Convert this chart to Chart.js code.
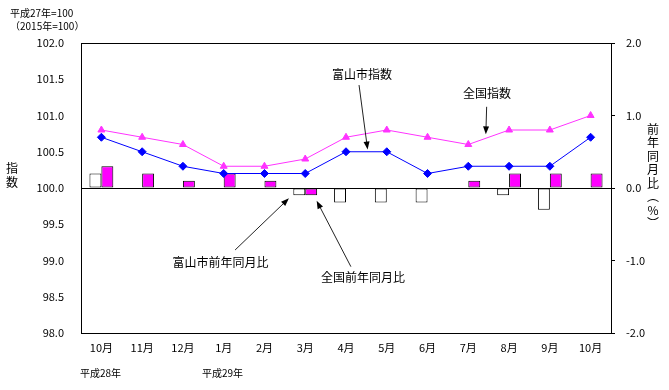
<!DOCTYPE html>
<html lang="ja">
<head>
<meta charset="utf-8">
<title>富山市指数と全国指数</title>
<script src="https://cdn.jsdelivr.net/npm/chart.js@4.4.1/dist/chart.umd.min.js"></script>
<style>
  html, body { margin: 0; padding: 0; background: #fff; }
  #wrap { width: 669px; height: 390px; }
</style>
</head>
<body>
<div id="wrap"><canvas id="indexChart" width="669" height="390"></canvas></div>
<script>
const months = ["10月", "11月", "12月", "1月", "2月", "3月", "4月", "5月", "6月", "7月", "8月", "9月", "10月"];
const toyamaIndex = [100.7, 100.5, 100.3, 100.2, 100.2, 100.2, 100.5, 100.5, 100.2, 100.3, 100.3, 100.3, 100.7];
const zenkokuIndex = [100.8, 100.7, 100.6, 100.3, 100.3, 100.4, 100.7, 100.8, 100.7, 100.6, 100.8, 100.8, 101.0];
const toyamaYoY = [0.2, 0, 0, 0, 0, -0.1, -0.2, -0.2, -0.2, 0, -0.1, -0.3, 0];
const zenkokuYoY = [0.3, 0.2, 0.1, 0.2, 0.1, -0.1, 0, 0, 0, 0.1, 0.2, 0.2, 0.2];
const indexTicks = [98.0, 98.5, 99.0, 99.5, 100.0, 100.5, 101.0, 101.5, 102.0];
const yoyTicks = [-2.0, -1.0, 0.0, 1.0, 2.0];

const FONT = '"Noto Sans CJK JP", "Noto Sans", sans-serif';

// callouts, placed in data units (category index, axis value)
const notes = [
  { text: "富山市指数", axis: "yIndex", at: [6.39, 101.57], from: [6.32, 101.42], to: [6.53, 100.53] },
  { text: "全国指数", axis: "yIndex", at: [9.46, 101.31], from: [9.45, 101.12], to: [9.43, 100.74] },
  { text: "富山市前年同月比", axis: "yRate", at: [2.92, -1.02], from: [3.28, -0.855], to: [4.6, -0.142] },
  { text: "全国前年同月比", axis: "yRate", at: [6.42, -1.23], from: [6.12, -1.085], to: [5.28, -0.175] },
];

document.addEventListener("DOMContentLoaded", () => {
  Chart.defaults.font.family = FONT;
  Chart.defaults.color = "#000";
  renderChart();
});

function drawArrow(ctx, x1, y1, x2, y2) {
  const ang = Math.atan2(y2 - y1, x2 - x1);
  const len = 8;
  const half = 3;
  ctx.beginPath();
  ctx.moveTo(x1, y1);
  ctx.lineTo(x2 - Math.cos(ang) * len * 0.8, y2 - Math.sin(ang) * len * 0.8);
  ctx.stroke();
  ctx.beginPath();
  ctx.moveTo(x2, y2);
  ctx.lineTo(x2 - Math.cos(ang) * len - Math.sin(ang) * half, y2 - Math.sin(ang) * len + Math.cos(ang) * half);
  ctx.lineTo(x2 - Math.cos(ang) * len + Math.sin(ang) * half, y2 - Math.sin(ang) * len - Math.cos(ang) * half);
  ctx.closePath();
  ctx.fill();
}

function verticalText(ctx, chars, x, y, step) {
  chars.forEach((c, i) => ctx.fillText(c, x, y + i * step));
}

const chartDecor = {
  id: "chartDecor",
  afterDraw(chart) {
    const { ctx, chartArea: area, scales } = chart;
    ctx.save();

    // frame
    ctx.strokeStyle = "#000";
    ctx.lineWidth = 1;
    ctx.strokeRect(Math.round(area.left) + 0.5, Math.round(area.top) + 0.5,
      Math.round(area.right - area.left), Math.round(area.bottom - area.top));

    ctx.fillStyle = "#000";
    ctx.textBaseline = "middle";

    // callouts
    ctx.font = "12px " + FONT;
    ctx.textAlign = "center";
    ctx.strokeStyle = "#222";
    notes.forEach((n) => {
      const y = scales[n.axis];
      ctx.fillText(n.text, scales.x.getPixelForValue(n.at[0]), y.getPixelForValue(n.at[1]));
      drawArrow(ctx,
        scales.x.getPixelForValue(n.from[0]), y.getPixelForValue(n.from[1]),
        scales.x.getPixelForValue(n.to[0]), y.getPixelForValue(n.to[1]));
    });

    // units at top left
    ctx.font = "10px " + FONT;
    ctx.textAlign = "left";
    ctx.fillText("平成27年=100", 10, 13);
    ctx.fillText("（2015年=100）", 10, 26);

    // year markers under the month labels
    ctx.fillText("平成28年", 80, 373);
    ctx.fillText("平成29年", 202, 373);

    // axis titles
    ctx.font = "12px " + FONT;
    ctx.textAlign = "center";
    verticalText(ctx, ["指", "数"], 12, 168, 14);
    verticalText(ctx, ["前", "年", "同", "月", "比", "︵", "%", "︶"], 653, 129, 13.5);

    ctx.restore();
  },
};

function renderChart() {
  const ctx = document.getElementById("indexChart");
  if (!ctx) return;

  new Chart(ctx, {
    data: {
      labels: months,
      datasets: [
        {
          type: "line",
          label: "富山市指数",
          data: toyamaIndex,
          yAxisID: "yIndex",
          borderColor: "#0000ff",
          backgroundColor: "#0000ff",
          borderWidth: 1,
          pointStyle: "rectRot",
          pointRadius: 4,
          tension: 0,
          order: 1,
        },
        {
          type: "line",
          label: "全国指数",
          data: zenkokuIndex,
          yAxisID: "yIndex",
          borderColor: "#ff33ff",
          backgroundColor: "#ff33ff",
          borderWidth: 1,
          pointStyle: "triangle",
          pointRadius: 4,
          tension: 0,
          order: 1,
        },
        {
          type: "bar",
          label: "富山市前年同月比",
          data: toyamaYoY,
          yAxisID: "yRate",
          backgroundColor: "#ffffff",
          borderColor: "#000000",
          borderWidth: 1,
          borderSkipped: false,
          categoryPercentage: 0.585,
          barPercentage: 1,
          order: 2,
        },
        {
          type: "bar",
          label: "全国前年同月比",
          data: zenkokuYoY,
          yAxisID: "yRate",
          backgroundColor: "#ff00ff",
          borderColor: "#000000",
          borderWidth: 1,
          borderSkipped: false,
          categoryPercentage: 0.585,
          barPercentage: 1,
          order: 2,
        },
      ],
    },
    options: {
      responsive: false,
      animation: false,
      layout: { padding: { top: 43, left: 0, right: 0, bottom: 0 } },
      plugins: {
        legend: { display: false },
        tooltip: { enabled: false },
      },
      scales: {
        x: {
          offset: true,
          grid: { display: false, drawTicks: false },
          border: { display: false },
          ticks: { padding: 8, font: { size: 11 }, maxRotation: 0, autoSkip: false },
          afterFit: (s) => { s.height = 57; },
        },
        yIndex: {
          position: "left",
          min: 98,
          max: 102,
          afterBuildTicks: (s) => { s.ticks = indexTicks.map((v) => ({ value: v })); },
          grid: {
            drawTicks: false,
            color: (c) => (c.tick && c.tick.value === 100 ? "#000" : "rgba(0,0,0,0)"),
          },
          border: { display: false },
          ticks: { padding: 17, font: { size: 11 }, callback: (v) => v.toFixed(1) },
          afterFit: (s) => { s.width = 81; },
        },
        yRate: {
          position: "right",
          min: -2,
          max: 2,
          afterBuildTicks: (s) => { s.ticks = yoyTicks.map((v) => ({ value: v })); },
          grid: { drawOnChartArea: false, drawTicks: true, tickLength: 4, color: "#000" },
          border: { display: false },
          ticks: { padding: 11, font: { size: 11 }, callback: (v) => v.toFixed(1) },
          afterFit: (s) => { s.width = 58; },
        },
      },
    },
    plugins: [chartDecor],
  });
}
</script>
</body>
</html>
